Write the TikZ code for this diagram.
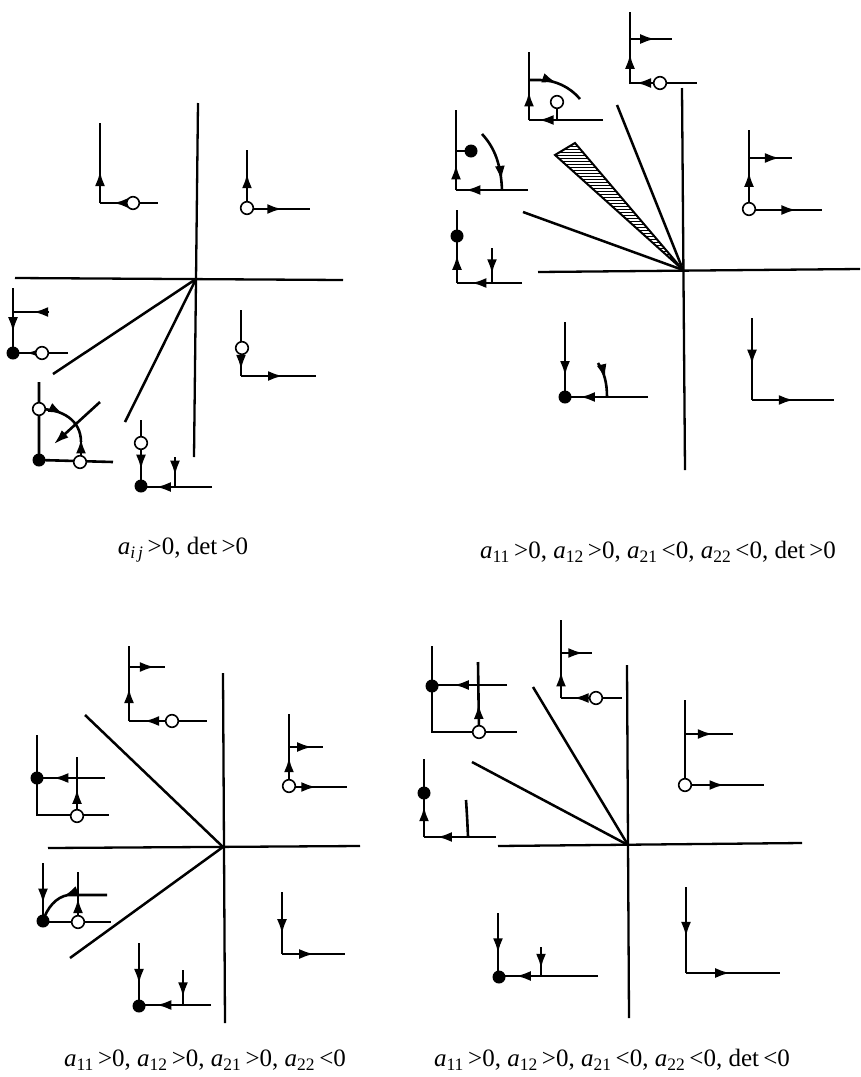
\documentclass[tikz,border=0pt]{standalone}
\usepackage{fontspec}
\setmainfont{Liberation Serif}
\usetikzlibrary{arrows.meta, decorations.markings, patterns}
\tikzset{
  axisline/.style={line width=2.3pt},
  sepline/.style={line width=2.5pt},
  traj/.style={line width=2.6pt},
  fwd/.style={decoration={markings,
      mark=at position #1 with {\arrow{Latex[length=15pt,width=10pt]}}},
    postaction={decorate}},
  tipend/.style={-{Latex[length=15pt,width=10pt]}},
  caption/.style={font=\fontsize{25}{30}\selectfont, inner sep=0pt},
}
\newcommand{\sink}[1]{\fill (#1) circle (6.5pt);}
\newcommand{\saddle}[1]{\draw[line width=1.6pt, fill=white] (#1) circle (6.3pt);}
\newcommand{\coef}[1]{\textit{a}\textsubscript{#1}\,}

\begin{document}
\begin{tikzpicture}[x=1pt, y={(0pt,-1pt)}]
\useasboundingbox (0,0) rectangle (861,1077);

% ---- panel 1: a_ij > 0, det > 0
\draw[axisline] (15,278) -- (343,280);
\draw[axisline] (198,103) -- (194,457);
\draw[sepline] (196,279) -- (53,374);
\draw[sepline] (196,279) -- (125,422);
% Q2
\draw[traj,fwd=0.4] (100,203) -- (100,123);
\draw[traj] (133,203) -- (158,203);
\draw[traj,fwd=0.6] (133,203) -- (100,203);
% Q1
\draw[traj,fwd=0.6] (247,208) -- (247,150);
\draw[traj,fwd=0.56] (247,209) -- (310,209);
% Q3, left
\draw[traj,fwd=0.68] (13,288) -- (13,353);
\draw[traj,fwd=0.44] (49,312) -- (13,312);
\draw[traj] (68,353) -- (42,353);
\draw[traj,fwd=0.55] (42,353) -- (13,353);
% Q3, corner
\draw[traj] (39,382) -- (39,460) -- (113,462);
\draw[traj,fwd=0.42] (39,409) .. controls (62,409) and (81,420) .. (81,442);
\draw[traj,fwd=0.98] (81,462) -- (81,438);
\draw[traj,tipend] (100,402) -- (54,444);
% Q3, bottom
\draw[traj] (141,420) -- (141,443);
\draw[traj,fwd=0.62] (141,443) -- (141,486);
\draw[traj,fwd=0.79] (212,487) -- (141,487);
\draw[traj,fwd=0.62] (175,457) -- (175,487);
% Q4
\draw[traj] (241,310) -- (241,348);
\draw[traj,fwd=0.78] (241,348) -- (241,376);
\draw[traj,fwd=0.56] (241,376) -- (316,376);
\saddle{133,203} \saddle{247,208} \saddle{42,353} \saddle{39,409}
\saddle{80,462} \saddle{141,443} \saddle{242,348}
\sink{13,353} \sink{39,460} \sink{141,486}
\node[caption] (cap1) at (183,550) {\coef{\textit{i\,j}}>0, det\,>0};

% ---- panel 2: a11>0, a12>0, a21<0, a22<0, det>0
\draw[axisline] (538,272) -- (860,269);
\draw[axisline] (682,88) -- (685,470);
\draw[sepline] (683,270) -- (617,105);
\draw[sepline] (683,270) -- (523,212);
\draw[line width=2pt, pattern=horizontal lines] (683,270) -- (555,155) -- (575,143) -- cycle;
% top
\draw[traj,fwd=0.42] (630,84) -- (630,12);
\draw[traj,fwd=0.6] (630,39) -- (672,39);
\draw[traj,fwd=0.8] (660,83) -- (630,83);
\draw[traj] (660,83) -- (697,83);
% second
\draw[traj,fwd=0.42] (529,120) -- (529,52);
\draw[traj,fwd=0.87] (603,120) -- (529,120);
\draw[traj] (557,102) -- (557,120);
\draw[traj,fwd=0.5] (529,80) -- (540,80) .. controls (555,80) and (570,87) .. (580,99);
% third
\draw[traj,fwd=0.32] (456,190) -- (456,110);
\draw[traj,fwd=0.87] (528,190) -- (456,190);
\draw[traj] (456,151) -- (471,151);
\draw[traj,fwd=0.85] (482,134) .. controls (495,148) and (501,165) .. (502,190);
% fourth
\draw[traj] (457,236) -- (457,210);
\draw[traj,fwd=0.6] (457,283) -- (457,236);
\draw[traj,fwd=0.78] (522,283) -- (457,283);
\draw[traj,fwd=0.75] (492,248) -- (492,283);
% Q3
\draw[traj,fwd=0.72] (565,322) -- (565,397);
\draw[traj,fwd=0.82] (648,397) -- (565,397);
\draw[traj,fwd=0.5] (598,363) .. controls (604,372) and (607,382) .. (607,397);
% Q1
\draw[traj,fwd=0.47] (749,209) -- (749,130);
\draw[traj,fwd=0.72] (749,158) -- (792,158);
\draw[traj,fwd=0.65] (749,210) -- (822,210);
% Q4
\draw[traj,fwd=0.57] (752,318) -- (752,400);
\draw[traj,fwd=0.51] (752,400) -- (834,400);
\saddle{660,83} \saddle{557,102} \saddle{749,209}
\sink{471,151} \sink{457,236} \sink{565,397}
\node[caption] (cap2) at (658,552) {\coef{11}>0, \coef{12}>0, \coef{21}<0, \coef{22}<0, det\,>0};

% ---- panel 3: a11>0, a12>0, a21>0, a22<0
\draw[axisline] (48,848) -- (360,846);
\draw[axisline] (223,673) -- (225,1023);
\draw[sepline] (223,847) -- (85,715);
\draw[sepline] (223,847) -- (70,958);
% top
\draw[traj,fwd=0.44] (129,721) -- (129,646);
\draw[traj,fwd=0.72] (129,667) -- (165,667);
\draw[traj,fwd=0.65] (172,721) -- (129,721);
\draw[traj] (172,721) -- (207,721);
% left, upper
\draw[traj] (37,735) -- (37,815) -- (109,815);
\draw[traj,fwd=0.76] (105,778) -- (37,778);
\draw[traj,fwd=0.46] (77,816) -- (77,757);
% left, lower
\draw[traj,fwd=0.7] (43,863) -- (43,921);
\draw[traj] (43,922) -- (111,922);
\draw[traj,fwd=0.48] (78,922) -- (78,872);
\draw[traj,fwd=0.57] (107,895) -- (68,895) .. controls (56,897) and (47,908) .. (43,921);
% bottom
\draw[traj,fwd=0.65] (139,943) -- (139,1006);
\draw[traj,fwd=0.76] (211,1005) -- (139,1005);
\draw[traj,fwd=0.78] (183,970) -- (183,1005);
% Q1
\draw[traj,fwd=0.4] (289,786) -- (289,714);
\draw[traj,fwd=0.68] (289,747) -- (323,747);
\draw[traj,fwd=0.47] (289,787) -- (347,787);
% Q4
\draw[traj,fwd=0.68] (282,892) -- (282,954);
\draw[traj,fwd=0.51] (282,954) -- (345,954);
\saddle{172,721} \saddle{77,816} \saddle{78,922} \saddle{289,786}
\sink{37,778} \sink{43,921} \sink{139,1006}
\node[caption] (cap3) at (205,1060) {\coef{11}>0, \coef{12}>0, \coef{21}>0, \coef{22}<0};

% ---- panel 4: a11>0, a12>0, a21<0, a22<0, det<0
\draw[axisline] (498,846) -- (802,843);
\draw[axisline] (627,665) -- (629,1018);
\draw[sepline] (628,845) -- (533,687);
\draw[sepline] (628,845) -- (472,762);
% top
\draw[traj,fwd=0.34] (561,698) -- (561,620);
\draw[traj,fwd=0.72] (561,653) -- (592,653);
\draw[traj,fwd=0.64] (596,698) -- (561,698);
\draw[traj] (596,698) -- (622,698);
% left, upper
\draw[traj] (432,646) -- (432,732) -- (517,732);
\draw[traj,fwd=0.71] (507,685) -- (432,685);
\draw[traj,fwd=0.4] (479,732) -- (478,662);
% left, lower
\draw[traj] (424,793) -- (424,759);
\draw[traj,fwd=0.7] (424,837) -- (424,793);
\draw[traj,fwd=0.82] (496,837) -- (424,837);
\draw[traj] (466,800) .. controls (467,815) .. (468,836);
% bottom
\draw[traj,fwd=0.63] (498,913) -- (498,977);
\draw[traj,fwd=0.83] (598,976) -- (499,976);
\draw[traj,fwd=0.75] (541,947) -- (541,976);
% Q1
\draw[traj] (685,785) -- (685,700);
\draw[traj,fwd=0.58] (685,734) -- (733,734);
\draw[traj,fwd=0.5] (685,785) -- (764,785);
% Q4
\draw[traj,fwd=0.58] (686,887) -- (686,973);
\draw[traj,fwd=0.47] (686,973) -- (780,973);
\saddle{596,698} \saddle{479,732} \saddle{685,785}
\sink{432,686} \sink{424,793} \sink{499,977}
\node[caption] (cap4) at (612,1060) {\coef{11}>0, \coef{12}>0, \coef{21}<0, \coef{22}<0, det\,<0};
\end{tikzpicture}
\end{document}
